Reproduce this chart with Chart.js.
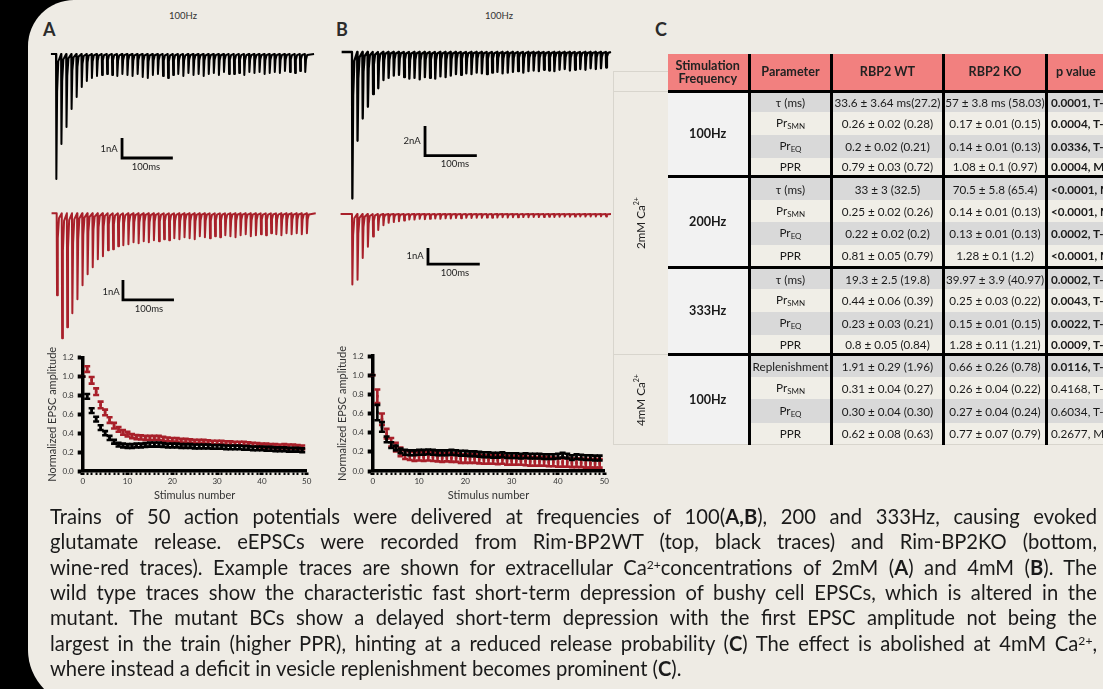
<!DOCTYPE html>
<html><head><meta charset="utf-8">
<script src="https://cdn.jsdelivr.net/npm/chart.js@4.4.1/dist/chart.umd.min.js"></script>
<style>
html,body{margin:0;padding:0;width:1103px;height:689px;overflow:hidden;background:#000;font-family:Lato,'Open Sans',sans-serif;}
#card{position:absolute;left:28px;top:0;width:1120px;height:705px;background:#eeebe4;border-radius:46px 0 0 55px;}
canvas{position:absolute;}
.plab{position:absolute;font-size:18px;font-weight:700;color:#2b2b2b;line-height:1;}
.cen{position:absolute;transform:translate(-50%,-50%);white-space:nowrap;color:#333;line-height:1;}
.hz{font-size:9.5px;}
.sb{font-size:9.5px;color:#222;}
#tbl{position:absolute;left:613px;top:54px;width:553px;border-collapse:collapse;table-layout:fixed;font-size:11.7px;color:#1a1a1a;}
#tbl td{padding:0;text-align:center;vertical-align:middle;white-space:nowrap;overflow:visible;line-height:1.05;}
#tbl td.hd{background:#f2807f;font-weight:700;font-size:12.6px;color:#222;}
#tbl td.ca{background:#eeebe4;border-left:1px solid #d8d5cd;border-top:1px solid #d8d5cd;border-bottom:1px solid #d8d5cd;}
#tbl td.fq{background:#f2f2f2;font-weight:700;font-size:12.6px;}
#tbl td.pv{text-align:left;padding-left:3px;}
#tbl sub{font-size:8px;vertical-align:-2px;}
.rot{position:absolute;transform:translate(-50%,-50%) rotate(-90deg);white-space:nowrap;font-size:11.7px;color:#222;}
.rot sup,.cap sup{font-size:60%;vertical-align:6px;line-height:0;}
#cap{position:absolute;left:50px;top:504px;width:1047px;font-size:20.2px;line-height:25.35px;color:#1a1a1a;}
#cap .ln{text-align:justify;text-align-last:justify;height:25.35px;}
#cap .ln.last{text-align-last:left;}
</style></head>
<body>
<div id="card"></div>

<div class="plab" style="left:43px;top:20px">A</div>
<div class="plab" style="left:336px;top:20px">B</div>
<div class="plab" style="left:655px;top:20px">C</div>
<div class="cen hz" style="left:183px;top:16px">100Hz</div>
<div class="cen hz" style="left:499px;top:16px">100Hz</div>

<canvas id="trA1" width="290" height="150" style="left:40px;top:40px"></canvas>
<canvas id="trA2" width="290" height="150" style="left:40px;top:195px"></canvas>
<canvas id="trB1" width="285" height="165" style="left:335px;top:40px"></canvas>
<canvas id="trB2" width="285" height="90" style="left:335px;top:205px"></canvas>

<div class="cen sb" style="left:109px;top:149px">1nA</div>
<div class="cen sb" style="left:146px;top:167px">100ms</div>
<div class="cen sb" style="left:111px;top:292px">1nA</div>
<div class="cen sb" style="left:149px;top:309px">100ms</div>
<div class="cen sb" style="left:412px;top:141px">2nA</div>
<div class="cen sb" style="left:455px;top:164px">100ms</div>
<div class="cen sb" style="left:415px;top:256px">1nA</div>
<div class="cen sb" style="left:455px;top:273px">100ms</div>

<canvas id="scA" width="280" height="160" style="left:40px;top:345px"></canvas>
<canvas id="scB" width="290" height="160" style="left:330px;top:345px"></canvas>

<div style="position:absolute;left:613px;top:71px;width:54px;height:19px;border-top:1px solid #d8d5cd;border-left:1px solid #d8d5cd;"></div>
<table id="tbl"></table>
<div class="rot" style="left:640px;top:223px">2mM Ca<sup>2+</sup></div>
<div class="rot" style="left:640px;top:400px">4mM Ca<sup>2+</sup></div>

<div id="cap" class="cap">
<div class="ln">Trains of 50 action potentials were delivered at frequencies of 100(<b>A,B</b>), 200 and 333Hz, causing evoked</div>
<div class="ln">glutamate release. eEPSCs were recorded from Rim-BP2WT (top, black traces) and Rim-BP2KO (bottom,</div>
<div class="ln">wine-red traces). Example traces are shown for extracellular Ca<sup>2+</sup>concentrations of 2mM (<b>A</b>) and 4mM (<b>B</b>). The</div>
<div class="ln">wild type traces show the characteristic fast short-term depression of bushy cell EPSCs, which is altered in the</div>
<div class="ln">mutant. The mutant BCs show a delayed short-term depression with the first EPSC amplitude not being the</div>
<div class="ln">largest in the train (higher PPR), hinting at a reduced release probability (<b>C</b>) The effect is abolished at 4mM Ca<sup>2+</sup>,</div>
<div class="ln last">where instead a deficit in vesicle replenishment becomes prominent (<b>C</b>).</div>
</div>

<script>
// ---------- DATA ----------
// Example trace EPSC peak amplitudes (nA), one per stimulus (50 stimuli, 10 ms apart)
const traceWtA = [6.25,4.5,3.65,2.75,2.15,1.65,1.35,1.2,1.1,1.05,1.0,1.05,1.1,1.0,1.05,1.1,1.0,1.15,1.2,1.05,1.0,1.1,1.2,1.05,1.0,1.1,0.95,1.05,1.0,1.1,1.0,0.95,1.05,0.9,1.0,1.0,0.95,1.05,0.9,0.95,0.9,1.0,0.95,0.9,0.95,0.85,0.9,0.95,0.85,0.9];
const traceKoA = [4.1,6.25,5.7,5.0,4.3,3.6,3.05,2.7,2.3,2.15,1.85,1.8,1.65,1.6,1.55,1.45,1.5,1.4,1.45,1.35,1.4,1.3,1.35,1.25,1.3,1.2,1.25,1.3,1.15,1.2,1.25,1.15,1.2,1.1,1.15,1.2,1.1,1.05,1.15,1.1,1.05,1.1,1.0,1.05,1.1,1.0,1.05,1.0,1.05,1.0];
const traceWtB = [9.9,6.0,4.5,3.7,2.85,2.45,1.9,1.75,1.6,1.55,1.7,1.8,1.75,1.85,1.7,1.75,1.8,1.65,1.7,1.6,1.5,1.55,1.45,1.5,1.4,1.45,1.5,1.4,1.35,1.45,1.4,1.35,1.3,1.4,1.3,1.25,1.3,1.2,1.25,1.3,1.2,1.15,1.25,1.2,1.15,1.2,1.1,1.15,1.1,1.05];
const traceKoB = [4.4,4.1,2.75,2.05,1.4,1.0,0.7,0.55,0.5,0.45,0.4,0.35,0.35,0.3,0.32,0.3,0.28,0.3,0.27,0.28,0.25,0.26,0.24,0.25,0.23,0.24,0.22,0.23,0.22,0.2,0.22,0.2,0.21,0.19,0.2,0.18,0.19,0.18,0.17,0.18,0.17,0.16,0.17,0.16,0.15,0.16,0.15,0.15,0.14,0.15];

// Normalized EPSC amplitude (mean, SEM) per stimulus number 0..49
const normWtA = [1.0,0.79,0.64,0.55,0.46,0.40,0.35,0.31,0.28,0.27,0.265,0.265,0.27,0.27,0.275,0.28,0.28,0.28,0.275,0.27,0.27,0.27,0.265,0.265,0.265,0.26,0.26,0.26,0.26,0.255,0.255,0.255,0.25,0.25,0.25,0.25,0.245,0.245,0.24,0.24,0.24,0.235,0.235,0.23,0.23,0.23,0.225,0.225,0.225,0.22];
const semWtA  = [0,0.025,0.025,0.025,0.025,0.022,0.022,0.02,0.02,0.02,0.02,0.02,0.02,0.02,0.02,0.022,0.022,0.022,0.02,0.02,0.02,0.02,0.02,0.02,0.02,0.02,0.02,0.02,0.02,0.02,0.02,0.02,0.02,0.02,0.02,0.02,0.02,0.02,0.02,0.02,0.02,0.02,0.02,0.02,0.02,0.02,0.02,0.02,0.02,0.02];
const normKoA = [1.0,1.08,0.96,0.84,0.70,0.62,0.54,0.48,0.44,0.41,0.39,0.37,0.36,0.355,0.35,0.35,0.35,0.35,0.34,0.335,0.33,0.33,0.32,0.32,0.315,0.31,0.31,0.31,0.305,0.30,0.30,0.30,0.295,0.295,0.29,0.29,0.29,0.285,0.28,0.275,0.27,0.27,0.265,0.265,0.26,0.265,0.26,0.26,0.255,0.25];
const semKoA  = [0,0.03,0.035,0.035,0.035,0.03,0.03,0.03,0.025,0.025,0.025,0.022,0.022,0.022,0.022,0.022,0.022,0.022,0.022,0.02,0.02,0.02,0.02,0.02,0.02,0.02,0.02,0.02,0.02,0.02,0.02,0.02,0.02,0.02,0.02,0.02,0.02,0.02,0.02,0.02,0.02,0.02,0.02,0.02,0.02,0.02,0.02,0.02,0.02,0.02];
const normWtB = [1.0,0.61,0.46,0.33,0.27,0.24,0.21,0.195,0.19,0.19,0.195,0.195,0.20,0.195,0.19,0.19,0.19,0.195,0.19,0.185,0.185,0.18,0.18,0.175,0.17,0.17,0.165,0.165,0.17,0.16,0.16,0.16,0.155,0.16,0.155,0.155,0.155,0.15,0.15,0.15,0.155,0.165,0.155,0.14,0.15,0.145,0.14,0.14,0.135,0.135];
const semWtB  = [0,0.08,0.05,0.03,0.03,0.025,0.025,0.025,0.025,0.025,0.025,0.025,0.025,0.025,0.025,0.025,0.025,0.025,0.025,0.025,0.025,0.025,0.025,0.025,0.025,0.025,0.025,0.025,0.025,0.025,0.025,0.025,0.025,0.025,0.025,0.025,0.025,0.025,0.025,0.025,0.025,0.025,0.025,0.025,0.025,0.025,0.025,0.025,0.025,0.025];
const normKoB = [1.0,0.78,0.54,0.39,0.30,0.25,0.20,0.17,0.16,0.15,0.155,0.15,0.155,0.15,0.145,0.14,0.145,0.14,0.14,0.13,0.13,0.13,0.13,0.125,0.12,0.12,0.12,0.115,0.12,0.11,0.11,0.11,0.11,0.105,0.10,0.10,0.10,0.10,0.095,0.095,0.09,0.09,0.09,0.085,0.085,0.085,0.08,0.08,0.08,0.08];
const semKoB  = [0,0.07,0.06,0.05,0.045,0.045,0.045,0.045,0.045,0.045,0.045,0.045,0.045,0.045,0.045,0.045,0.045,0.045,0.045,0.045,0.045,0.045,0.045,0.045,0.045,0.045,0.045,0.045,0.045,0.045,0.045,0.045,0.045,0.045,0.045,0.045,0.045,0.045,0.045,0.045,0.045,0.045,0.045,0.045,0.045,0.045,0.045,0.045,0.045,0.045];

const xTicks = [0,10,20,30,40,50];
const yTicks = [0,0.2,0.4,0.6,0.8,1.0,1.2];

// Table C
const caLabels   = ['2mM','4mM'];
const freqLabels = ['100Hz','200Hz','333Hz','100Hz'];
const paramLabels = ['τ (ms)','Pr<sub>SMN</sub>','Pr<sub>EQ</sub>','PPR','τ (ms)','Pr<sub>SMN</sub>','Pr<sub>EQ</sub>','PPR','τ (ms)','Pr<sub>SMN</sub>','Pr<sub>EQ</sub>','PPR','Replenishment','Pr<sub>SMN</sub>','Pr<sub>EQ</sub>','PPR'];
const wtValues = ['33.6 ± 3.64 ms(27.2)','0.26 ± 0.02 (0.28)','0.2 ± 0.02 (0.21)','0.79 ± 0.03 (0.72)','33 ± 3 (32.5)','0.25 ± 0.02 (0.26)','0.22 ± 0.02 (0.2)','0.81 ± 0.05 (0.79)','19.3 ± 2.5 (19.8)','0.44 ± 0.06 (0.39)','0.23 ± 0.03 (0.21)','0.8 ± 0.05 (0.84)','1.91 ± 0.29 (1.96)','0.31 ± 0.04 (0.27)','0.30 ± 0.04 (0.30)','0.62 ± 0.08 (0.63)'];
const koValues = ['57 ± 3.8 ms (58.03)','0.17 ± 0.01 (0.15)','0.14 ± 0.01 (0.13)','1.08 ± 0.1 (0.97)','70.5 ± 5.8 (65.4)','0.14 ± 0.01 (0.13)','0.13 ± 0.01 (0.13)','1.28 ± 0.1 (1.2)','39.97 ± 3.9 (40.97)','0.25 ± 0.03 (0.22)','0.15 ± 0.01 (0.15)','1.28 ± 0.11 (1.21)','0.66 ± 0.26 (0.78)','0.26 ± 0.04 (0.22)','0.27 ± 0.04 (0.24)','0.77 ± 0.07 (0.79)'];
const pValues  = ['0.0001, T-test','0.0004, T-test','0.0336, T-test','0.0004, MW','<0.0001, MW','<0.0001, MW','0.0002, T-test','<0.0001, MW','0.0002, T-test','0.0043, T-test','0.0022, T-test','0.0009, T-test','0.0116, T-test','0.4168, T-test','0.6034, T-test','0.2677, MW'];
const pSignificant = [true,true,true,true,true,true,true,true,true,true,true,true,true,false,false,false];

// ---------- TABLE ----------
(function(){
  const rowH = [21,23,23,18,24,22,23,22,22,23,23,19,23,22,24,21];
  const colW = [54,82,82,112,103,120];
  const t = document.getElementById('tbl');
  let html = '<colgroup>' + colW.map(w=>'<col style="width:'+w+'px">').join('') + '</colgroup>';
  const thick = '3px solid #000';
  html += '<tr style="height:37px"><td></td>' +
    '<td class="hd">Stimulation<br>Frequency</td>' +
    '<td class="hd" style="border-left:'+thick+'">Parameter</td>' +
    '<td class="hd" style="border-left:'+thick+'">RBP2 WT</td>' +
    '<td class="hd" style="border-left:'+thick+'">RBP2 KO</td>' +
    '<td class="hd" style="border-left:'+thick+';text-align:left;padding-left:8px">p value</td></tr>';
  for (let r=0;r<paramLabels.length;r++){
    const g = r%4, grp = Math.floor(r/4);
    const bg = (g===0||g===2) ? '#d9d9d9' : '#f0eee7';
    const top = g===0 ? 'border-top:'+thick+';' : '';
    html += '<tr style="height:'+rowH[r]+'px">';
    if (r===0) html += '<td class="ca" rowspan="12"></td>';
    if (r===12) html += '<td class="ca" rowspan="4"></td>';
    if (g===0) html += '<td class="fq" rowspan="4" style="'+top+'">'+freqLabels[grp]+'</td>';
    const cs = 'background:'+bg+';'+top+'border-left:'+thick+';';
    html += '<td style="'+cs+'">'+paramLabels[r]+'</td>';
    html += '<td style="'+cs+'">'+wtValues[r]+'</td>';
    html += '<td style="'+cs+'">'+koValues[r]+'</td>';
    html += '<td class="pv" style="'+cs+(pSignificant[r]?'font-weight:700;':'')+'">'+pValues[r]+'</td>';
    html += '</tr>';
  }
  t.innerHTML = html;
  t.style.borderBottom = '1px solid #d8d5cd';
})();

// ---------- CHARTS ----------
Chart.defaults.font.family = 'Lato';
Chart.defaults.animation = false;

const WT_COLOR = '#000000';
const KO_COLOR = '#a8202a';
const ISI = 10; // ms between stimuli (100 Hz)

function traceChart(id, amps, color, lw, xr, yr, bar, t0, tEnd){
  const pts = [{x:t0, y:0}];
  amps.forEach((a,i)=>{
    const t = i*ISI;
    pts.push({x:t,y:0},{x:t+0.7,y:-a},{x:t+2.2,y:-a*0.3},{x:t+4.5,y:-a*0.06});
  });
  pts.push({x:(amps.length-1)*ISI+tEnd, y:0});
  const barPts = [{x:bar.t,y:bar.y+bar.h},{x:bar.t,y:bar.y},{x:bar.t+bar.w,y:bar.y}];
  new Chart(document.getElementById(id), {
    type:'line',
    data:{datasets:[
      {data:pts, borderColor:color, borderWidth:lw, pointRadius:0, tension:0, borderJoinStyle:'round', clip:false},
      {data:barPts, borderColor:'#000', borderWidth:2.8, pointRadius:0, tension:0, borderJoinStyle:'miter', clip:false}
    ]},
    options:{
      responsive:false, devicePixelRatio:1, animation:false,
      layout:{padding:0},
      plugins:{legend:{display:false}, tooltip:{enabled:false}},
      scales:{
        x:{type:'linear', display:false, min:xr[0], max:xr[1]},
        y:{type:'linear', display:false, min:yr[0], max:yr[1]}
      }
    }
  });
}

traceChart('trA1', traceWtA, WT_COLOR, 2, [-31.5,539.4], [-6.8,0.7], {t:130,y:-5.2,w:100,h:1}, -10, 18);
traceChart('trA2', traceKoA, KO_COLOR, 2, [-32.7,536], [-6.585,0.915], {t:130,y:-4.33,w:100,h:1}, -10, 18);
traceChart('trB1', traceWtB, WT_COLOR, 2.3, [-32.8,517.4], [-10.34,0.81], {t:141,y:-7.0,w:100,h:2}, -20, 10);
traceChart('trB2', traceKoB, KO_COLOR, 2, [-32.8,517.4], [-5.06,0.5625], {t:146.7,y:-3.125,w:100,h:1}, -22, 10);

const errorBars = {
  id:'errorBars',
  afterDatasetDraw(chart, args){
    const ds = chart.data.datasets[args.index];
    if (!ds.sem) return;
    const ys = chart.scales.y, ctx = chart.ctx;
    ctx.save();
    ctx.strokeStyle = ds.borderColor;
    ctx.lineWidth = 2.6;
    ctx.lineCap = 'butt';
    args.meta.data.forEach((pt,i)=>{
      const m = ds.data[i].y, s = ds.sem[i];
      const x = pt.x;
      if (!s) { ctx.beginPath(); ctx.moveTo(x-2.8, pt.y); ctx.lineTo(x+2.8, pt.y); ctx.stroke(); return; }
      const y1 = ys.getPixelForValue(m+s), y2 = ys.getPixelForValue(m-s);
      ctx.beginPath();
      ctx.moveTo(x,y1); ctx.lineTo(x,y2);
      ctx.moveTo(x-3,y1); ctx.lineTo(x+3,y1);
      ctx.moveTo(x-3,y2); ctx.lineTo(x+3,y2);
      ctx.stroke();
    });
    ctx.restore();
  }
};

function normChart(id, wt, wtSem, ko, koSem, pad){
  new Chart(document.getElementById(id), {
    type:'scatter',
    data:{datasets:[
      {label:'Rim-BP2 WT', data:wt.map((y,i)=>({x:i,y})), sem:wtSem, borderColor:WT_COLOR, backgroundColor:WT_COLOR, pointStyle:'rect', pointRadius:1.8, borderWidth:0, clip:false},
      {label:'Rim-BP2 KO', data:ko.map((y,i)=>({x:i,y})), sem:koSem, borderColor:KO_COLOR, backgroundColor:KO_COLOR, pointStyle:'rect', pointRadius:1.8, borderWidth:0, clip:false}
    ]},
    options:{
      responsive:false, devicePixelRatio:1, animation:false,
      layout:{padding:{top:pad.top, right:pad.right, left:0, bottom:0}},
      plugins:{legend:{display:false}, tooltip:{enabled:false}},
      scales:{
        x:{type:'linear', min:0, max:50,
           afterFit(s){ s.height = 34; },
           afterBuildTicks(s){ s.ticks = Array.from({length:51},(_,i)=>({value:i})); },
           ticks:{autoSkip:false, maxRotation:0, padding:2, color:'#333', font:{size:8},
                  callback:(v)=> xTicks.includes(v) ? String(v) : ''},
           grid:{drawOnChartArea:false, drawTicks:true, tickLength:4, tickColor:'#000',
                 tickWidth:(c)=> (c.tick && xTicks.includes(c.tick.value)) ? 4 : 2},
           border:{display:true, color:'#000', width:3.5},
           title:{display:true, text:'Stimulus number', color:'#333', font:{size:11}, padding:{top:0,bottom:3}}
        },
        y:{type:'linear', min:0, max:1.2,
           afterFit(s){ s.width = 42.7; },
           afterBuildTicks(s){ s.ticks = yTicks.map(v=>({value:v})); },
           ticks:{padding:4, color:'#333', font:{size:8}, callback:(v)=>Number(v).toFixed(1)},
           grid:{drawOnChartArea:false, drawTicks:true, tickLength:5, tickColor:'#000', tickWidth:4},
           border:{display:true, color:'#000', width:3.5},
           title:{display:true, text:'Normalized EPSC amplitude', color:'#333', font:{size:11}, padding:{top:6,bottom:0}}
        }
      }
    },
    plugins:[errorBars]
  });
}

normChart('scA', normWtA, semWtA, normKoA, semKoA, {top:12.7, right:13.3});
normChart('scB', normWtB, semWtB, normKoB, semKoB, {top:11, right:15.7});
</script>
</body></html>
